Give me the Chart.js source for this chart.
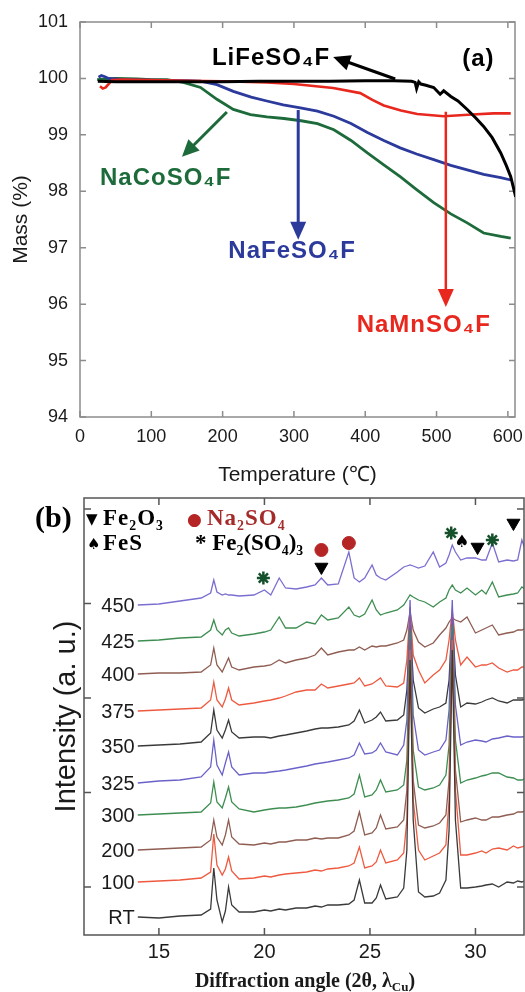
<!DOCTYPE html>
<html><head><meta charset="utf-8">
<script src="https://cdn.jsdelivr.net/npm/chart.js@4.4.0/dist/chart.umd.min.js"></script>
<style>html,body{margin:0;padding:0;background:#fff;}canvas{display:block;}</style>
</head><body>
<canvas id="tga" width="525" height="490"></canvas>
<canvas id="xrd" width="525" height="502"></canvas>
<script>
// ---------- Panel (a): TGA ----------
const tempTicks = [0, 100, 200, 300, 400, 500, 600];
const massTicks = [94, 95, 96, 97, 98, 99, 100, 101];

const liTemp = [25, 50, 100, 150, 200, 250, 300, 350, 400, 440, 465, 470, 472, 475, 478, 485, 496, 505, 510, 520, 530, 543, 555, 566, 578, 590, 598, 604, 611];
const liMass = [99.95, 99.94, 99.94, 99.94, 99.94, 99.95, 99.95, 99.95, 99.96, 99.96, 99.95, 99.93, 99.82, 99.94, 99.9, 99.88, 99.84, 99.72, 99.78, 99.68, 99.6, 99.45, 99.3, 99.15, 98.95, 98.68, 98.45, 98.26, 97.9];

const naMnTemp = [28, 32, 36, 40, 45, 60, 100, 150, 200, 262, 300, 355, 393, 410, 426, 450, 473, 510, 550, 580, 604];
const naMnMass = [99.86, 99.82, 99.84, 99.9, 99.97, 99.98, 99.97, 99.96, 99.95, 99.93, 99.9, 99.83, 99.74, 99.62, 99.52, 99.43, 99.37, 99.33, 99.36, 99.38, 99.38];

const naFeTemp = [26, 30, 35, 40, 60, 100, 150, 169, 192, 215, 240, 262, 285, 309, 333, 356, 380, 403, 426, 449, 472, 496, 520, 543, 566, 590, 604];
const naFeMass = [100.02, 100.05, 100.03, 100.0, 99.98, 99.97, 99.96, 99.95, 99.89, 99.77, 99.67, 99.6, 99.53, 99.48, 99.42, 99.33, 99.2, 99.04, 98.9, 98.77, 98.66, 98.56, 98.46, 98.38, 98.3, 98.24, 98.2];

const naCoTemp = [24, 50, 80, 100, 122, 145, 169, 192, 215, 239, 262, 286, 310, 333, 356, 380, 403, 426, 449, 472, 496, 520, 543, 566, 590, 604];
const naCoMass = [99.98, 100.0, 99.99, 99.98, 99.98, 99.93, 99.84, 99.63, 99.45, 99.36, 99.32, 99.29, 99.25, 99.2, 99.09, 98.9, 98.68, 98.47, 98.26, 98.03, 97.8, 97.6, 97.44, 97.26, 97.2, 97.17];

// ---------- Panel (b): XRD (stacked intensities, a.u.) ----------
const angleTicks = [15, 20, 25, 30];
const intensityTicks = [48, 142.5, 237, 331.5, 426];
const angles = [14.0,15.0,16.0,17.0,17.45,17.6,17.75,18.0,18.15,18.3,18.45,18.8,19.5,20.0,20.3,20.7,21.0,21.5,22.0,22.4,22.7,23.0,23.5,24.0,24.25,24.5,24.75,25.1,25.3,25.5,25.75,26.3,26.6,26.75,26.9,27.05,27.3,27.6,28.0,28.3,28.6,28.75,28.9,29.05,29.3,29.6,30.0,30.3,30.5,30.8,31.1,31.5,31.8,32.0,32.2,32.4];

const xrdRT  = [18,17,19,20,26,67,35,13,24,48,30,23,23,25,24,26,25,27,27,29,28,30,30,31,35,55,32,32,37,50,36,38,47,85,275,115,43,38,39,42,55,105,285,115,47,47,48,49,50,51,48,53,52,54,53,55];
const xrd100 = [53,54,55,57,63,101,70,60,66,78,64,56,57,59,58,60,61,62,63,65,64,66,67,69,72,88,67,69,73,85,72,75,82,115,285,135,85,75,79,82,90,135,295,145,80,80,82,84,82,86,87,85,89,87,88,90];
const xrd200 = [85,86,87,88,95,115,98,90,100,115,98,91,90,92,91,93,93,95,95,97,96,97,97,100,104,123,100,102,107,120,106,108,115,145,295,155,110,107,109,112,120,155,300,165,113,115,117,115,115,118,118,120,121,123,123,124];
const xrd300 = [120,121,122,123,132,153,133,127,137,148,133,126,123,125,126,127,127,128,130,132,133,134,135,137,141,160,138,140,145,155,143,145,150,175,305,185,148,145,147,150,160,190,310,195,152,155,157,159,160,162,162,158,157,155,155,157];
const xrd325 = [152,154,155,158,168,195,170,160,172,183,168,160,162,162,163,164,165,167,169,171,172,173,175,177,180,192,181,182,185,192,183,180,190,215,335,220,185,180,183,185,195,225,335,230,190,193,195,194,193,196,197,199,198,198,198,199];
const xrd350 = [189,190,191,193,202,225,205,197,205,215,203,197,198,198,197,199,200,202,204,206,207,207,208,210,214,225,212,215,218,223,214,215,220,245,315,255,227,222,226,228,232,255,320,260,228,232,231,233,235,237,234,232,235,235,235,236];
const xrd375 = [224,225,226,227,235,253,235,228,236,247,235,230,232,234,235,237,239,243,245,245,251,247,249,251,252,257,249,251,254,257,249,248,252,275,328,280,265,252,260,265,275,295,325,295,270,278,268,270,270,272,267,263,265,265,268,268];
const xrd400 = [261,262,262,263,270,287,270,263,270,277,268,265,268,269,270,275,272,275,277,280,287,280,283,285,285,288,285,289,288,289,289,292,295,305,323,305,293,288,292,300,307,313,317,315,313,318,302,305,307,310,300,302,303,305,305,307];
const xrd425 = [294,295,297,298,305,315,305,300,305,307,302,299,301,303,305,318,307,307,313,311,320,315,317,328,320,318,321,335,325,320,322,325,330,335,340,338,335,333,328,333,337,345,350,345,342,347,340,345,341,353,338,340,341,342,348,345];
const xrd450 = [330,331,334,337,342,355,343,340,341,340,340,339,340,345,340,357,347,346,348,350,357,350,351,383,357,353,357,370,360,357,355,363,368,369,370,369,367,369,383,368,372,380,390,383,375,377,377,375,375,392,373,375,374,375,395,383];

const traceNames = ['RT', '100', '200', '300', '325', '350', '375', '400', '425', '450'];
const traceSeries = [xrdRT, xrd100, xrd200, xrd300, xrd325, xrd350, xrd375, xrd400, xrd425, xrd450];

// phase markers
const fe2o3Angle = [22.7, 30.1, 31.8];   const fe2o3Y = [368, 388, 412];
const na2so4Angle = [22.7, 24.0];        const na2so4Y = [385, 392];
const fe2so43Angle = [19.95, 28.85, 30.8]; const fe2so43Y = [357, 402, 395];
const fesAngle = [29.35];                const fesY = [392];

// ---------- helpers ----------
const SANS = '"Liberation Sans", Arial, Helvetica, sans-serif';
const SERIF = '"Liberation Serif", "Times New Roman", serif';
const pts = (xs, ys) => xs.map((v, i) => ({x: v, y: ys[i]}));

function drawFrame(chart, color, len, lw) {
  const {ctx, chartArea: a, scales: {x, y}} = chart;
  ctx.save();
  ctx.strokeStyle = color; ctx.lineWidth = lw;
  ctx.beginPath();
  x.ticks.forEach(t => {
    const p = x.getPixelForValue(t.value);
    ctx.moveTo(p, a.bottom); ctx.lineTo(p, a.bottom - len);
    ctx.moveTo(p, a.top); ctx.lineTo(p, a.top + len);
  });
  y.ticks.forEach(t => {
    const p = y.getPixelForValue(t.value);
    ctx.moveTo(a.left, p); ctx.lineTo(a.left + len, p);
    ctx.moveTo(a.right, p); ctx.lineTo(a.right - len, p);
  });
  ctx.stroke();
  ctx.strokeRect(a.left, a.top, a.right - a.left, a.bottom - a.top);
  ctx.restore();
}

function arrow(ctx, x1, y1, x2, y2, color, w, head, half) {
  const ang = Math.atan2(y2 - y1, x2 - x1);
  const c = Math.cos(ang), s = Math.sin(ang);
  ctx.save();
  ctx.strokeStyle = color; ctx.fillStyle = color; ctx.lineWidth = w;
  ctx.beginPath(); ctx.moveTo(x1, y1); ctx.lineTo(x2 - c * head * 0.8, y2 - s * head * 0.8); ctx.stroke();
  ctx.beginPath();
  ctx.moveTo(x2, y2);
  ctx.lineTo(x2 - head * c + half * s, y2 - head * s - half * c);
  ctx.lineTo(x2 - head * c - half * s, y2 - head * s + half * c);
  ctx.closePath(); ctx.fill();
  ctx.restore();
}

const fitX = h => s => { s.height = h; s.paddingLeft = 0; s.paddingRight = 0; };
const fitY = w => s => { s.width = w; s.paddingTop = 0; s.paddingBottom = 0; };

// ---------- chart (a) ----------
const tgaPlugin = {
  id: 'tgaDecor',
  beforeDatasetsDraw(chart) { drawFrame(chart, '#8c8c8c', 6, 1.5); },
  afterDatasetsDraw(chart) {
    const {ctx, scales: {x, y}} = chart;
    const X = v => x.getPixelForValue(v), Y = v => y.getPixelForValue(v);
    arrow(ctx, X(442), Y(99.99), X(355), Y(100.38), '#000', 3, 17, 8);
    arrow(ctx, X(206), Y(99.405), X(143), Y(98.61), '#1d6b3a', 3, 17, 8);
    arrow(ctx, X(306), Y(99.44), X(306), Y(97.14), '#2c3a9c', 3, 18, 8);
    arrow(ctx, X(513), Y(99.41), X(513), Y(95.95), '#e8281e', 2.5, 18, 8);
    ctx.save();
    ctx.font = 'bold 24px ' + SANS;
    ctx.textBaseline = 'alphabetic';
    try { ctx.letterSpacing = '1px'; } catch (e) {}
    const txt = (t, tx, ty, col) => { ctx.fillStyle = col; ctx.fillText(t, X(tx), Y(ty)); };
    txt('LiFeSO₄F', 185, 100.24, '#000');
    txt('(a)', 536, 100.22, '#000');
    txt('NaCoSO₄F', 28, 98.11, '#1d6b3a');
    txt('NaFeSO₄F', 208, 96.82, '#2c3a9c');
    txt('NaMnSO₄F', 388, 95.51, '#e8281e');
    ctx.restore();
  }
};

new Chart(document.getElementById('tga'), {
  type: 'line',
  data: {
    datasets: [
      {label: 'LiFeSO4F', data: pts(liTemp, liMass), borderColor: '#000', borderWidth: 3},
      {label: 'NaMnSO4F', data: pts(naMnTemp, naMnMass), borderColor: '#e8281e', borderWidth: 2.6},
      {label: 'NaFeSO4F', data: pts(naFeTemp, naFeMass), borderColor: '#2c3a9c', borderWidth: 2.8},
      {label: 'NaCoSO4F', data: pts(naCoTemp, naCoMass), borderColor: '#1d6b3a', borderWidth: 2.8}
    ]
  },
  options: {
    responsive: false, animation: false, devicePixelRatio: 1,
    elements: {point: {radius: 0}, line: {tension: 0, fill: false}},
    layout: {autoPadding: false, padding: {top: 22, right: 10, left: 0, bottom: 0}},
    plugins: {legend: {display: false}, tooltip: {enabled: false}},
    scales: {
      x: {
        type: 'linear', min: 0, max: 610,
        afterFit: fitX(73),
        afterBuildTicks: s => { s.ticks = tempTicks.map(v => ({value: v})); },
        grid: {display: false, drawTicks: false}, border: {display: false},
        ticks: {color: '#1a1a1a', font: {family: SANS, size: 18}, padding: 9, maxRotation: 0},
        title: {display: true, text: 'Temperature (℃)', color: '#1a1a1a', font: {family: SANS, size: 21}, padding: {top: 0, bottom: 2}}
      },
      y: {
        min: 94, max: 101,
        afterFit: fitY(80),
        afterBuildTicks: s => { s.ticks = massTicks.map(v => ({value: v})); },
        grid: {display: false, drawTicks: false}, border: {display: false},
        ticks: {color: '#1a1a1a', font: {family: SANS, size: 18}, padding: 12},
        title: {display: true, text: 'Mass (%)', color: '#1a1a1a', font: {family: SANS, size: 21}, padding: {top: 9, bottom: 0}}
      }
    }
  },
  plugins: [tgaPlugin]
});

// ---------- chart (b) ----------
const traceColors = ['#3a3a3a', '#ee5a40', '#8f5d52', '#3e8e52', '#6b62c9', '#3a3a3a', '#ee5a40', '#8f5d52', '#3e8e52', '#7a6fd0'];

const xrdPlugin = {
  id: 'xrdDecor',
  afterDatasetsDraw(chart) {
    drawFrame(chart, '#555', 7, 1.5);
    const {ctx, scales: {x, y}} = chart;
    const X = v => x.getPixelForValue(v), Y = v => y.getPixelForValue(v);
    ctx.save();
    // trace labels
    ctx.font = '20px ' + SANS; ctx.fillStyle = '#1a1a1a';
    ctx.textAlign = 'right'; ctx.textBaseline = 'middle';
    traceNames.forEach((n, i) => ctx.fillText(n, X(13.85), Y(traceSeries[i][0]) + 1));
    // spade marker
    ctx.textAlign = 'center'; ctx.textBaseline = 'middle';
    ctx.font = '17px "DejaVu Sans", sans-serif'; ctx.fillStyle = '#000';
    fesAngle.forEach((a, i) => ctx.fillText('♠', X(a), Y(fesY[i])));
    // legend
    ctx.textAlign = 'left'; ctx.textBaseline = 'alphabetic';
    ctx.font = 'bold 30px ' + SERIF; ctx.fillStyle = '#000';
    ctx.fillText('(b)', 35, 37);
    ctx.font = '15px "DejaVu Sans", sans-serif';
    ctx.fillText('▼', 86, 34);
    ctx.fillText('♠', 87, 59);
    ctx.fillStyle = '#b52525'; ctx.font = '17px "DejaVu Sans", sans-serif';
    ctx.fillText('●', 187, 35);
    try { ctx.letterSpacing = '1px'; } catch (e) {}
    ctx.font = 'bold 23px ' + SERIF;
    ctx.fillStyle = '#000';
    ctx.fillText('Fe₂O₃', 103, 35);
    ctx.fillText('FeS', 103, 60);
    ctx.fillStyle = '#a52a2a';
    ctx.fillText('Na₂SO₄', 207, 35);
    try { ctx.letterSpacing = '0px'; } catch (e) {}
    ctx.fillStyle = '#000';
    ctx.fillText('* Fe₂(SO₄)₃', 195, 60);
    // x title with subscript
    const main = 'Diffraction angle (2θ, λ', sub = 'Cu', end = ')';
    const fMain = 'bold 20px ' + SERIF, fSub = 'bold 13px ' + SERIF;
    ctx.fillStyle = '#1a1a1a';
    ctx.font = fMain; const w1 = ctx.measureText(main).width, w3 = ctx.measureText(end).width;
    ctx.font = fSub; const w2 = ctx.measureText(sub).width;
    let sx = 305 - (w1 + w2 + w3) / 2; const by = 497;
    ctx.font = fMain; ctx.fillText(main, sx, by); sx += w1;
    ctx.font = fSub; ctx.fillText(sub, sx, by + 4); sx += w2;
    ctx.font = fMain; ctx.fillText(end, sx, by);
    ctx.restore();
  }
};

const xrdDatasets = [
  {label: 'Fe2O3', data: pts(fe2o3Angle, fe2o3Y), showLine: false, pointStyle: 'triangle', rotation: 180, pointRadius: 7.5, backgroundColor: '#000', borderColor: '#000', borderWidth: 1},
  {label: 'Na2SO4', data: pts(na2so4Angle, na2so4Y), showLine: false, pointStyle: 'circle', pointRadius: 6.5, backgroundColor: '#b52525', borderColor: '#b52525', borderWidth: 1},
  {label: 'Fe2(SO4)3', data: pts(fe2so43Angle, fe2so43Y), showLine: false, pointStyle: 'star', pointRadius: 6.5, backgroundColor: '#14502a', borderColor: '#14502a', borderWidth: 2.5}
];
traceSeries.forEach((s, i) => xrdDatasets.push({
  label: traceNames[i], data: pts(angles, s), borderColor: traceColors[i], borderWidth: 1.3, pointRadius: 0
}));

new Chart(document.getElementById('xrd'), {
  type: 'line',
  data: {datasets: xrdDatasets},
  options: {
    responsive: false, animation: false, devicePixelRatio: 1,
    elements: {line: {tension: 0, fill: false}},
    layout: {autoPadding: false, padding: {top: 8, right: 1, left: 0, bottom: 0}},
    plugins: {legend: {display: false}, tooltip: {enabled: false}},
    scales: {
      x: {
        type: 'linear', min: 11.45, max: 32.3,
        afterFit: fitX(57),
        afterBuildTicks: s => { s.ticks = angleTicks.map(v => ({value: v})); },
        grid: {display: false, drawTicks: false}, border: {display: false},
        ticks: {color: '#1a1a1a', font: {family: SANS, size: 20}, padding: 5, maxRotation: 0},
        title: {display: false}
      },
      y: {
        min: 0, max: 437,
        afterFit: fitY(84),
        afterBuildTicks: s => { s.ticks = intensityTicks.map(v => ({value: v})); },
        grid: {display: false, drawTicks: false}, border: {display: false},
        ticks: {display: false},
        title: {display: true, text: 'Intensity (a. u.)', color: '#1a1a1a', font: {family: SANS, size: 29}, padding: {top: 50, bottom: 0}}
      }
    }
  },
  plugins: [xrdPlugin]
});
</script>
</body></html>
